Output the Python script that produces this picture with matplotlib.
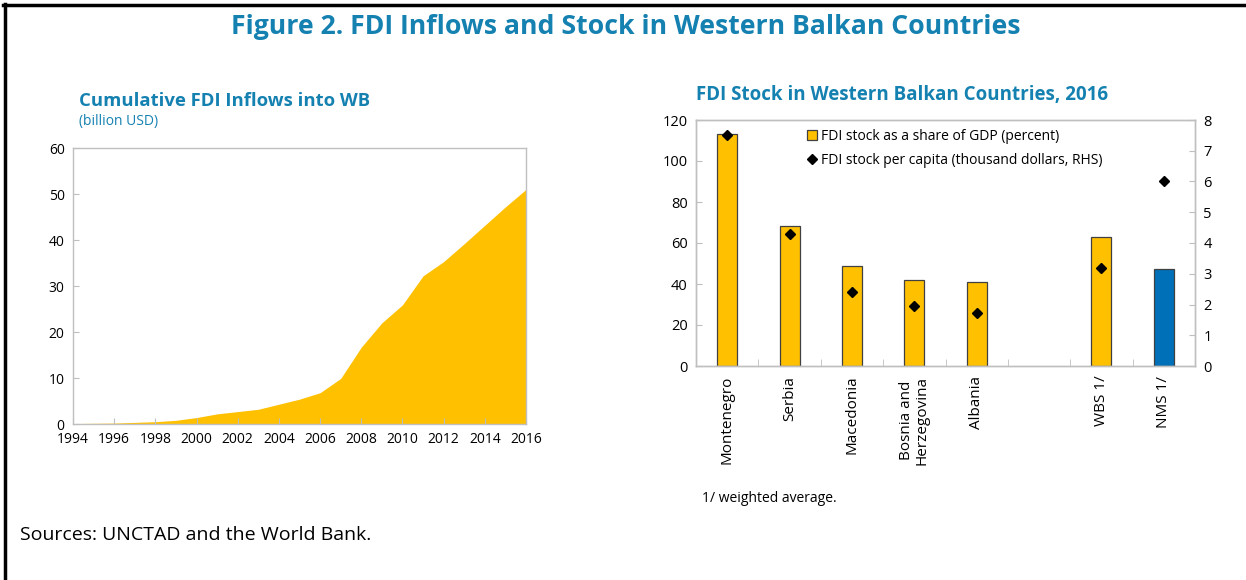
"""Figure 2: cumulative FDI inflows into the Western Balkans and FDI stock by country."""

import matplotlib
matplotlib.use("Agg")
import matplotlib.pyplot as plt
from matplotlib.lines import Line2D
from matplotlib.patches import Patch
import numpy as np

plt.rcParams["font.family"] = ["Open Sans", "DejaVu Sans"]

W, H = 1246, 580
TEAL = "#1481B1"
YELLOW = "#FFC000"
BLUE = "#0070B8"
GRID = "#BFBFBF"
EDGE = "#404040"

# left panel: cumulative inflows, billion USD
years = list(range(1994, 2017))
cum_fdi = [0.1, 0.15, 0.2, 0.35, 0.5, 0.8, 1.4, 2.2, 2.7, 3.2, 4.3, 5.4, 6.8,
           9.9, 16.7, 22.0, 25.9, 32.2, 35.3, 39.2, 43.2, 47.2, 51.0]

# right panel: stock in 2016
countries = ["Montenegro", "Serbia", "Macedonia", "Bosnia and\nHerzegovina",
             "Albania", "", "WBS 1/", "NMS 1/"]
stock_gdp = [113, 68.5, 49, 42, 41, None, 63, 47.5]
stock_pc = [7.5, 4.3, 2.42, 1.95, 1.73, None, 3.2, 6.03]


def px_axes(fig, x0, y0, x1, y1):
    return fig.add_axes([x0 / W, 1 - y1 / H, (x1 - x0) / W, (y1 - y0) / H])


def style_spines(ax):
    for s in ax.spines.values():
        s.set_color(GRID)
        s.set_linewidth(1.0)


fig = plt.figure(figsize=(W / 100, H / 100), dpi=100)

# frame lines (left and top only)
fig.add_artist(Line2D([4.5 / W, 4.5 / W], [0, 1 - 4 / H], color="black", lw=2.5))
fig.add_artist(Line2D([3 / W, 1], [1 - 5 / H, 1 - 5 / H], color="black", lw=2.5))

fig.text(626 / W, 1 - 27 / H,
         "Figure 2. FDI Inflows and Stock in Western Balkan Countries",
         ha="center", va="center", fontsize=19.2, fontweight="bold", color=TEAL)

# ---- left panel
ax1 = px_axes(fig, 73, 148, 526, 424)
ax1.fill_between(years, cum_fdi, 0, color=YELLOW, linewidth=0)
ax1.set_xlim(1994, 2016)
ax1.set_ylim(0, 60)
ax1.set_xticks(range(1994, 2017, 2))
ax1.set_yticks(range(0, 61, 10))
ax1.tick_params(direction="in", length=4, color=GRID, labelsize=10, pad=6)
style_spines(ax1)
fig.text(79 / W, 1 - 101 / H, "Cumulative FDI Inflows into WB", ha="left",
         va="center", fontsize=13.3, fontweight="bold", color=TEAL)
fig.text(79 / W, 1 - 122 / H, "(billion USD)", ha="left", va="center",
         fontsize=10, color=TEAL)

# ---- right panel
ax2 = px_axes(fig, 696, 120, 1195, 366)
idx = np.arange(len(countries))
for i, (v, name) in enumerate(zip(stock_gdp, countries)):
    if v is None:
        continue
    color = BLUE if name.startswith("NMS") else YELLOW
    ax2.bar(i, v, width=0.32, color=color, edgecolor=EDGE, linewidth=0.9,
            zorder=2)
ax2.set_xlim(-0.5, len(countries) - 0.5)
ax2.set_ylim(0, 120)
ax2.set_yticks(range(0, 121, 20))
ax2.set_xticks(idx)
ax2.set_xticklabels(countries, rotation=90, fontsize=11, va="top",
                    linespacing=1.0)
ax2.set_xticks(idx[:-1] + 0.5, minor=True)
ax2.tick_params(axis="x", which="major", length=0, pad=7)
ax2.tick_params(axis="x", which="minor", direction="in", length=5, color=GRID)
ax2.tick_params(axis="y", direction="in", length=4, color=GRID, labelsize=10.5,
                pad=6)
style_spines(ax2)

ax3 = ax2.twinx()
xs = [i for i, v in zip(idx, stock_pc) if v is not None]
ys = [v for v in stock_pc if v is not None]
ax3.plot(xs, ys, linestyle="none", marker="D", markersize=4.8, color="black",
         zorder=3)
ax3.set_ylim(0, 8)
ax3.set_yticks(range(0, 9))
ax3.tick_params(axis="y", direction="in", length=4, color=GRID, labelsize=10.5,
                pad=6)
style_spines(ax3)

handles = [Patch(facecolor=YELLOW, edgecolor=EDGE, linewidth=0.9),
           Line2D([], [], linestyle="none", marker="D", markersize=4.8,
                  color="black")]
ax2.legend(handles, ["FDI stock as a share of GDP (percent)",
                     "FDI stock per capita (thousand dollars, RHS)"],
           loc="upper left", bbox_to_anchor=(0.205, 1.0), frameon=False,
           fontsize=10, handlelength=0.7, handletextpad=0.3,
           labelspacing=0.65, borderaxespad=0.25)

fig.text(696 / W, 1 - 95 / H, "FDI Stock in Western Balkan Countries, 2016",
         ha="left", va="center", fontsize=13.5, fontweight="bold", color=TEAL)
fig.text(702 / W, 1 - 499 / H, "1/ weighted average.", ha="left",
         va="center", fontsize=10)
fig.text(20 / W, 1 - 535 / H, "Sources: UNCTAD and the World Bank.",
         ha="left", va="center", fontsize=14)

fig.savefig("out.png", dpi=100)
